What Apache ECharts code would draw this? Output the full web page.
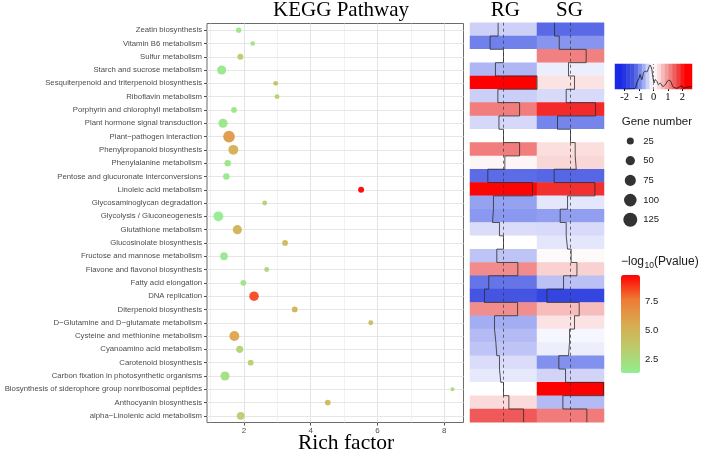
<!DOCTYPE html>
<html><head><meta charset="utf-8">
<script src="https://cdn.jsdelivr.net/npm/echarts@6/dist/echarts.min.js"></script>
<style>html,body{margin:0;padding:0;background:#fff}#c{width:706px;height:454px}</style>
</head><body><div id="c"></div>
<script>
const categories = ['Zeatin biosynthesis','Vitamin B6 metabolism','Sulfur metabolism','Starch and sucrose metabolism','Sesquiterpenoid and triterpenoid biosynthesis','Riboflavin metabolism','Porphyrin and chlorophyll metabolism','Plant hormone signal transduction','Plant\u2212pathogen interaction','Phenylpropanoid biosynthesis','Phenylalanine metabolism','Pentose and glucuronate interconversions','Linoleic acid metabolism','Glycosaminoglycan degradation','Glycolysis / Gluconeogenesis','Glutathione metabolism','Glucosinolate biosynthesis','Fructose and mannose metabolism','Flavone and flavonol biosynthesis','Fatty acid elongation','DNA replication','Diterpenoid biosynthesis','D\u2212Glutamine and D\u2212glutamate metabolism','Cysteine and methionine metabolism','Cyanoamino acid metabolism','Carotenoid biosynthesis','Carbon fixation in photosynthetic organisms','Biosynthesis of siderophore group nonribosomal peptides','Anthocyanin biosynthesis','alpha\u2212Linolenic acid metabolism'];
const richFactor = [1.84,2.26,1.89,1.33,2.95,2.99,1.70,1.37,1.55,1.68,1.51,1.47,5.51,2.62,1.23,1.80,3.23,1.40,2.68,1.98,2.30,3.52,5.80,1.71,1.87,2.20,1.43,8.25,4.51,1.90];
const geneNumber = [10,5,15,48,7,7,13,48,84,58,19,19,15,7,58,48,13,32,7,13,53,13,7,58,25,13,48,1,13,32];
const negLog10P = [1.8,2.0,3.5,1.6,4.0,3.0,1.8,1.8,6.3,5.2,1.8,1.6,9.7,3.0,1.4,5.0,4.5,1.6,2.8,2.0,8.5,5.0,4.5,5.8,3.0,3.0,2.2,2.5,4.5,3.2];
const groups = ['RG','SG'];
const rgValues = [-0.4,-1.0,0.0,-0.6,2.5,-0.42,1.2,-0.34,0.0,1.2,0.1,-1.17,2.16,-0.75,-0.82,-0.3,0.0,-0.5,1.07,-1.1,-1.42,1.05,-0.67,-0.57,-0.5,-0.3,-0.2,0.0,0.4,1.5];
const sgValues = [-1.19,-0.84,1.17,-0.15,0.3,-0.32,1.87,-0.97,0.0,0.35,0.43,-1.22,1.82,-0.22,-0.77,-0.32,-0.22,0.05,0.48,-0.52,-1.76,0.65,0.3,-0.07,-0.15,-0.87,-0.37,2.46,-0.57,1.22];
const xTicks = [2,4,6,8];
const xMajorGrid = [2,4,6,8];
const xMinorGrid = [1,3,5,7];
const keyTicks = [-2,-1,0,1,2];
const keyBands = [-2.53,-2.27,-2.0,-1.73,-1.47,-1.2,-0.93,-0.67,-0.4,-0.13,0.13,0.4,0.67,0.93,1.2,1.47,1.73,2.0,2.27,2.53];
const keyDensityX = [-2.08,-1.28,-1.16,-1.0,-0.93,-0.81,-0.69,-0.58,-0.47,-0.35,-0.24,-0.12,-0.05,0.04,0.11,0.23,0.35,0.46,0.65,0.81,1.04,1.2,1.34,1.62,1.85,1.97,2.08,2.31,2.66];
const keyDensityY = [0,0.03,0.24,0.44,0.58,0.375,0.65,0.72,0.68,0.82,0.96,0.79,0.51,0.24,0.375,0.31,0.17,0.24,0.1,0.17,0.35,0.31,0.1,0.03,0.1,0.125,0.03,0.07,0.1];
const sizeLegendValues = [25,50,75,100,125];
const pTicks = [2.5,5,7.5];

const SANS = '"Liberation Sans", Arial, sans-serif';
const SERIF = '"Liberation Serif", "Times New Roman", serif';
const sizeOf = n => Math.sqrt(14 + 1.45 * n);
const traceData = (vals, ofs) => vals.flatMap((v, i) => [[ofs + v, i], [ofs + v, i + 1]]);

const chart = echarts.init(document.getElementById('c'), null, {renderer: 'canvas'});
const hidden = {show: false};
const option = {
  animation: false,
  backgroundColor: '#fff',
  grid: [
    {left: 207, top: 23.5, width: 256.5, height: 399, show: true, borderColor: '#6b6b6b', borderWidth: 1, backgroundColor: 'transparent'},
    {left: 470, top: 22.7, width: 134, height: 399.6},
    {left: 470, top: 22.7, width: 134, height: 399.6},
    {left: 615, top: 64, width: 77, height: 25},
    {left: 615, top: 64, width: 77, height: 25},
    {left: 622, top: 131.15, width: 16.6, height: 98.5},
    {left: 621, top: 275, width: 19, height: 98}
  ],
  xAxis: [
    {gridIndex: 0, type: 'value', min: 0.89, max: 8.58, splitLine: hidden, axisLine: hidden,
     axisTick: {show: true, customValues: xTicks, length: 3, lineStyle: {color: '#4d4d4d'}},
     axisLabel: {customValues: xTicks, fontFamily: SANS, fontSize: 8, color: '#4d4d4d', margin: 4}},
    {gridIndex: 1, type: 'category', data: groups, show: false},
    {gridIndex: 2, type: 'value', min: -2.5, max: 7.5, show: false},
    {gridIndex: 3, type: 'category', data: keyBands.map(String), show: false},
    {gridIndex: 4, type: 'value', min: -2.67, max: 2.67, splitLine: hidden, axisLine: hidden,
     axisTick: {show: true, customValues: keyTicks, length: 2, lineStyle: {color: '#000'}},
     axisLabel: {customValues: keyTicks, fontFamily: SERIF, fontSize: 10.5, color: '#000', margin: 3}},
    {gridIndex: 5, type: 'value', min: 0, max: 1, show: false},
    {gridIndex: 6, type: 'value', min: 0, max: 1, show: false}
  ],
  yAxis: [
    {gridIndex: 0, type: 'category', data: categories, inverse: true, axisLine: hidden, splitLine: hidden,
     axisTick: {show: true, alignWithLabel: true, length: 3, lineStyle: {color: '#4d4d4d'}},
     axisLabel: {interval: 0, fontFamily: SANS, fontSize: 7.75, color: '#4d4d4d', margin: 5}},
    {gridIndex: 1, type: 'category', data: categories, inverse: true, show: false},
    {gridIndex: 2, type: 'value', min: 0, max: 30, inverse: true, show: false},
    {gridIndex: 3, type: 'category', data: [''], show: false},
    {gridIndex: 4, type: 'value', min: 0, max: 1, show: false},
    {gridIndex: 5, type: 'category', data: sizeLegendValues.map(String), inverse: true, position: 'right',
     axisLine: hidden, axisTick: hidden, splitLine: hidden,
     axisLabel: {fontFamily: SANS, fontSize: 9.5, color: '#1a1a1a', margin: 4.7}},
    {gridIndex: 6, type: 'value', min: 1.32, max: 9.74, position: 'right', axisLine: hidden, splitLine: hidden,
     axisTick: {show: true, inside: true, customValues: pTicks, length: 4, lineStyle: {color: '#fff', width: 1}},
     axisLabel: {customValues: pTicks, formatter: v => v.toFixed(1), fontFamily: SANS, fontSize: 9.5, color: '#1a1a1a', margin: 5}},
    {gridIndex: 6, type: 'value', min: 1.32, max: 9.74, position: 'left', axisLine: hidden, splitLine: hidden,
     axisTick: {show: true, inside: true, customValues: pTicks, length: 4, lineStyle: {color: '#fff', width: 1}},
     axisLabel: {show: false}}
  ],
  visualMap: [
    {type: 'continuous', seriesIndex: 1, dimension: 2, min: 1.32, max: 9.74, show: true, calculable: false,
     left: 621, top: 275, itemWidth: 19, itemHeight: 98, padding: 0, hoverLink: false, text: null,
     inRange: {color: ['#90ee90', '#bccb6c', '#d8ab50', '#ee7a34', '#ff0000']}},
    {type: 'continuous', seriesIndex: [2, 5], dimension: 2, min: -2.2, max: 2.2, show: false,
     inRange: {color: ['#1a28e6', '#3545e0', '#4a5ae2', '#8090ee', '#c8ccf6', '#ffffff', '#fad6d6', '#f4a0a0', '#f07070', '#f03838', '#ff0000']}}
  ],
  series: [
    {type: 'line', xAxisIndex: 0, yAxisIndex: 0, data: [], z: 1, silent: true,
     markLine: {z: 1, symbol: 'none', silent: true, label: {show: false}, animation: false,
       data: [
         ...xMinorGrid.map(v => ({xAxis: v, lineStyle: {color: '#ededed', width: 0.7, type: 'solid'}})),
         ...xMajorGrid.map(v => ({xAxis: v, lineStyle: {color: '#e4e4e4', width: 1, type: 'solid'}})),
         ...categories.map(c => ({yAxis: c, lineStyle: {color: '#e6e6e6', width: 1, type: 'solid'}}))
       ]}},
    {type: 'scatter', xAxisIndex: 0, yAxisIndex: 0, z: 3,
     data: categories.map((c, i) => [richFactor[i], c, negLog10P[i], geneNumber[i]]),
     symbolSize: v => sizeOf(v[3]), itemStyle: {opacity: 0.95}},
    {type: 'heatmap', xAxisIndex: 1, yAxisIndex: 1,
     data: categories.flatMap((c, i) => [[0, i, rgValues[i]], [1, i, sgValues[i]]]),
     itemStyle: {borderWidth: 0}, emphasis: {disabled: true}},
    {type: 'line', xAxisIndex: 2, yAxisIndex: 2, data: traceData(rgValues, 0), showSymbol: false, symbol: 'none', z: 5,
     lineStyle: {color: '#2b2b2b', width: 0.8},
     markLine: {symbol: 'none', silent: true, label: {show: false},
       lineStyle: {type: [3, 3], color: '#333', width: 0.7}, data: [{xAxis: 0}, {xAxis: 5}]}},
    {type: 'line', xAxisIndex: 2, yAxisIndex: 2, data: traceData(sgValues, 5), showSymbol: false, symbol: 'none', z: 5,
     lineStyle: {color: '#2b2b2b', width: 0.8}},
    {type: 'heatmap', xAxisIndex: 3, yAxisIndex: 3, data: keyBands.map((v, i) => [i, 0, v]),
     itemStyle: {borderWidth: 0}, emphasis: {disabled: true}},
    {type: 'line', xAxisIndex: 4, yAxisIndex: 4, data: keyDensityX.map((x, i) => [x, keyDensityY[i]]),
     showSymbol: false, symbol: 'none', smooth: 0.25, z: 5, lineStyle: {color: '#111', width: 0.8},
     markLine: {symbol: 'none', silent: true, label: {show: false},
       lineStyle: {type: [2, 2], color: '#444', width: 0.6}, data: [{xAxis: 0}]}},
    {type: 'scatter', xAxisIndex: 5, yAxisIndex: 5, data: sizeLegendValues.map(v => [0.5, String(v), v]),
     symbolSize: v => sizeOf(v[2]), itemStyle: {color: '#000'}}
  ],
  graphic: [
    {type: 'text', x: 341, y: 10, style: {text: 'KEGG Pathway', font: '21px ' + SERIF, fill: '#000', align: 'center', verticalAlign: 'middle'}},
    {type: 'text', x: 505.3, y: 10, style: {text: 'RG', font: '21px ' + SERIF, fill: '#000', align: 'center', verticalAlign: 'middle'}},
    {type: 'text', x: 569.5, y: 10, style: {text: 'SG', font: '21px ' + SERIF, fill: '#000', align: 'center', verticalAlign: 'middle'}},
    {type: 'text', x: 346, y: 443, style: {text: 'Rich factor', font: '21.5px ' + SERIF, fill: '#000', align: 'center', verticalAlign: 'middle'}},
    {type: 'text', x: 621.7, y: 121.7, style: {text: 'Gene number', font: '11.5px ' + SANS, fill: '#1a1a1a', align: 'left', verticalAlign: 'middle'}},
    {type: 'text', x: 621, y: 262, style: {text: '\u2212log', font: '12px ' + SANS, fill: '#1a1a1a', align: 'left', verticalAlign: 'middle'}},
    {type: 'text', x: 644.5, y: 266, style: {text: '10', font: '8.5px ' + SANS, fill: '#1a1a1a', align: 'left', verticalAlign: 'middle'}},
    {type: 'text', x: 654, y: 262, style: {text: '(Pvalue)', font: '12px ' + SANS, fill: '#1a1a1a', align: 'left', verticalAlign: 'middle'}}
  ]
};
chart.setOption(option);
</script>
</body></html>
